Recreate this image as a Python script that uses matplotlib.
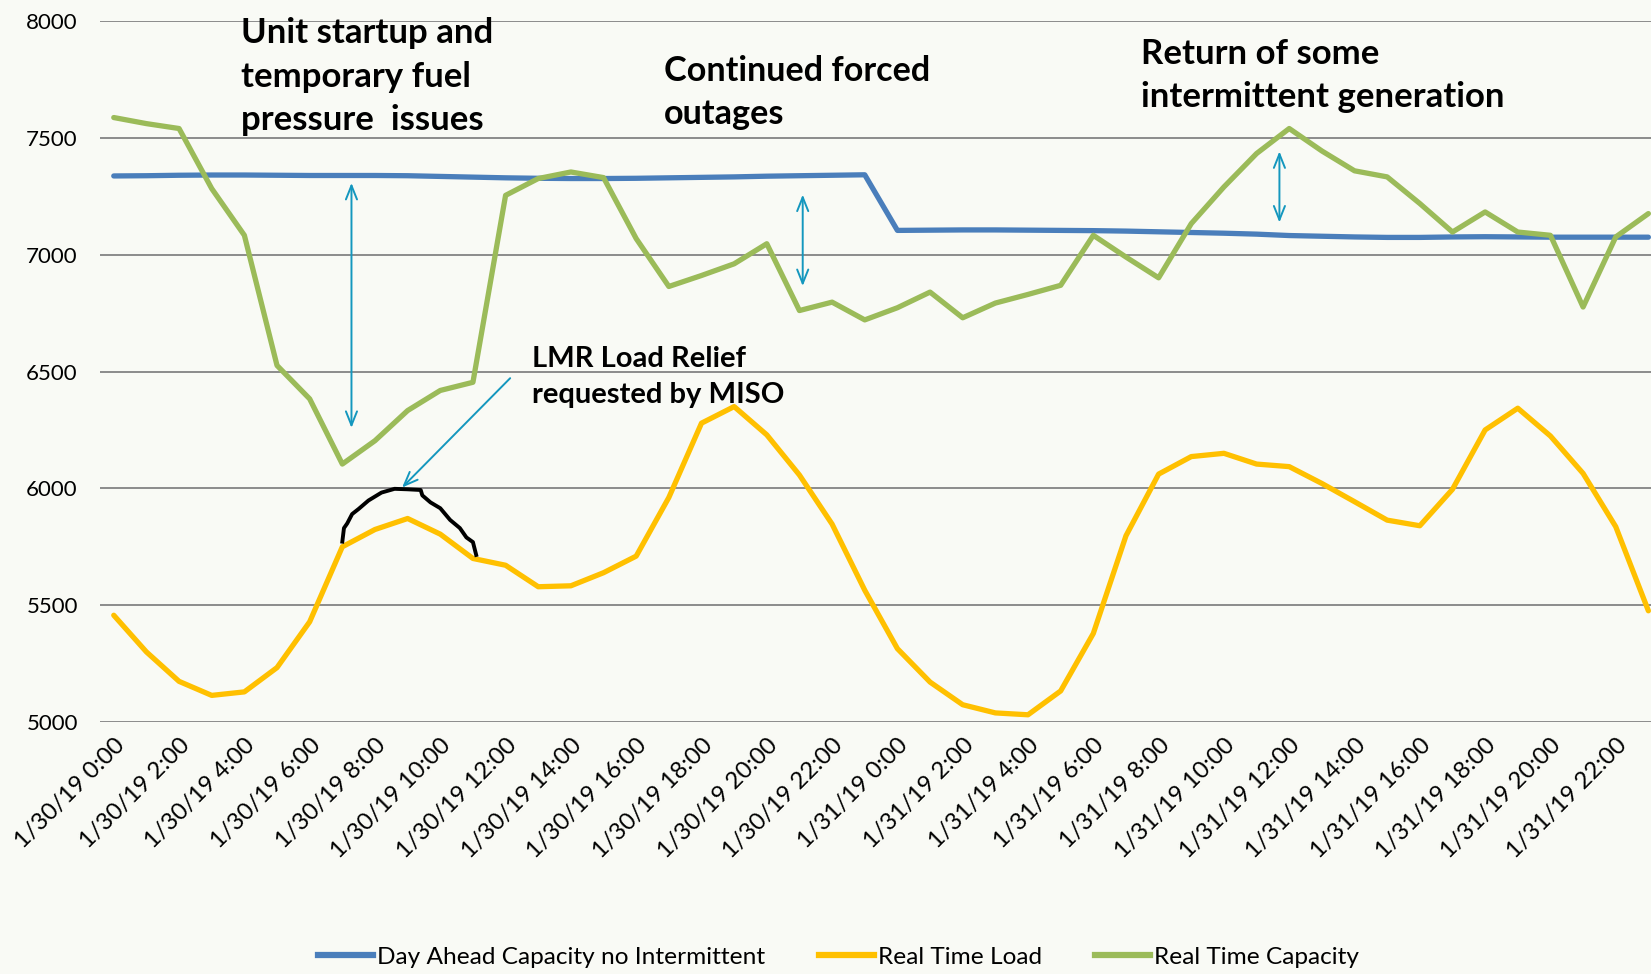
import numpy as np
import matplotlib.pyplot as plt
from matplotlib.lines import Line2D

# hourly values, 1/30/19 0:00 .. 1/31/19 23:00
hours = [f"1/30/19 {h}:00" for h in range(24)] + [f"1/31/19 {h}:00" for h in range(24)]

day_ahead_cap = [7337, 7338, 7340, 7341, 7341, 7340, 7339, 7339, 7339, 7338, 7335, 7332,
                 7329, 7327, 7326, 7326, 7327, 7329, 7331, 7333, 7336, 7338, 7340, 7342,
                 7104, 7105, 7106, 7106, 7105, 7104, 7103, 7101, 7098, 7095, 7092, 7088,
                 7082, 7079, 7076, 7074, 7074, 7076, 7077, 7076, 7075, 7075, 7075, 7075]

rt_load = [5457, 5300, 5174, 5114, 5129, 5233, 5429, 5750, 5824, 5871, 5804, 5700,
           5671, 5579, 5583, 5639, 5710, 5961, 6279, 6350, 6229, 6057, 5847, 5564,
           5314, 5171, 5074, 5039, 5031, 5133, 5379, 5797, 6061, 6136, 6150, 6104,
           6093, 6021, 5943, 5864, 5840, 5996, 6250, 6343, 6224, 6064, 5836, 5476]

rt_cap = [7587, 7561, 7540, 7283, 7083, 6526, 6383, 6104, 6204, 6333, 6419, 6454,
          7254, 7326, 7354, 7330, 7069, 6864, 6911, 6961, 7047, 6761, 6797, 6721,
          6773, 6840, 6730, 6793, 6830, 6869, 7083, 6990, 6901, 7133, 7290, 7433,
          7540, 7444, 7359, 7333, 7219, 7097, 7183, 7097, 7083, 6776, 7076, 7176]

# hand drawn mark over the load peak
scribble_x = [7.0, 7.05, 7.15, 7.3, 7.5, 7.8, 8.2, 8.6, 9.0, 9.4, 9.45, 9.7, 10.0, 10.3, 10.6, 10.8, 11.0, 11.1]
scribble_y = [5772, 5830, 5850, 5890, 5912, 5948, 5982, 5998, 5996, 5993, 5970, 5940, 5915, 5865, 5830, 5790, 5770, 5715]

BLUE = '#4a7ebb'
YELLOW = '#ffc000'
GREEN = '#9bbb59'
TEAL = '#1497be'
BG = '#f9faf5'

plt.rcParams['font.family'] = ['Lato', 'DejaVu Sans']

fig = plt.figure(figsize=(16.51, 9.74), dpi=100, facecolor=BG)
ax = fig.add_axes([0.0606, 0.2587, 0.9394, 0.7197], facecolor=BG)

x = np.arange(len(hours))
ax.plot(x, day_ahead_cap, color=BLUE, lw=3.8, solid_capstyle='round', zorder=3)
ax.plot(x, rt_load, color=YELLOW, lw=3.8, solid_capstyle='round', zorder=3)
ax.plot(x, rt_cap, color=GREEN, lw=3.8, solid_capstyle='round', zorder=3)
ax.plot(scribble_x, scribble_y, color='black', lw=2.8, zorder=4)

ax.set_xlim(-0.42, 47.08)
ax.set_ylim(5000, 8000)
ax.set_yticks(range(5000, 8001, 500))
ax.grid(axis='y', color='#8c8c8c', lw=1.4)
ax.set_axisbelow(True)
for s in ax.spines.values():
    s.set_visible(False)
ax.tick_params(axis='y', length=0, pad=16, labelsize=16)
ax.tick_params(axis='x', length=0, pad=9, labelsize=17.3)
ax.set_xticks(x[::2])
ax.set_xticklabels(hours[::2], rotation=45, ha='right', va='top', rotation_mode='anchor')

# double headed gap arrows
for xa, y0, y1 in [(7.28, 7319, 6247), (21.1, 7269, 6854), (35.7, 7454, 7126)]:
    ax.annotate('', xy=(xa, y1), xytext=(xa, y0),
                arrowprops=dict(arrowstyle='<->, head_length=1.0, head_width=0.4',
                                color=TEAL, lw=1.4), zorder=5)
ax.annotate('', xy=(8.77, 5995), xytext=(12.2, 6480),
            arrowprops=dict(arrowstyle='->, head_length=1.0, head_width=0.4',
                            color=TEAL, lw=1.4), zorder=5)

ax.text(3.9, 7762, 'Unit startup and\ntemporary fuel\npressure  issues', fontsize=25,
        fontweight='bold', va='center', ha='left', linespacing=1.44)
ax.text(16.84, 7695, 'Continued forced\noutages', fontsize=24.6,
        fontweight='bold', va='center', ha='left', linespacing=1.44)
ax.text(31.45, 7767, 'Return of some\nintermittent generation', fontsize=25,
        fontweight='bold', va='center', ha='left', linespacing=1.44)
ax.text(12.8, 6477, 'LMR Load Relief\nrequested by MISO', fontsize=21,
        fontweight='bold', va='center', ha='left', linespacing=1.44)

handles = [Line2D([], [], color=c, lw=4.5) for c in (BLUE, YELLOW, GREEN)]
fig.legend(handles, ['Day Ahead Capacity no Intermittent', 'Real Time Load', 'Real Time Capacity'],
           loc='center', bbox_to_anchor=(0.508, 0.017), ncol=3, frameon=False,
           fontsize=17.6, handlelength=2.25, handletextpad=0.15, columnspacing=2.2)

fig.savefig('out.png', dpi=100, facecolor=BG)
